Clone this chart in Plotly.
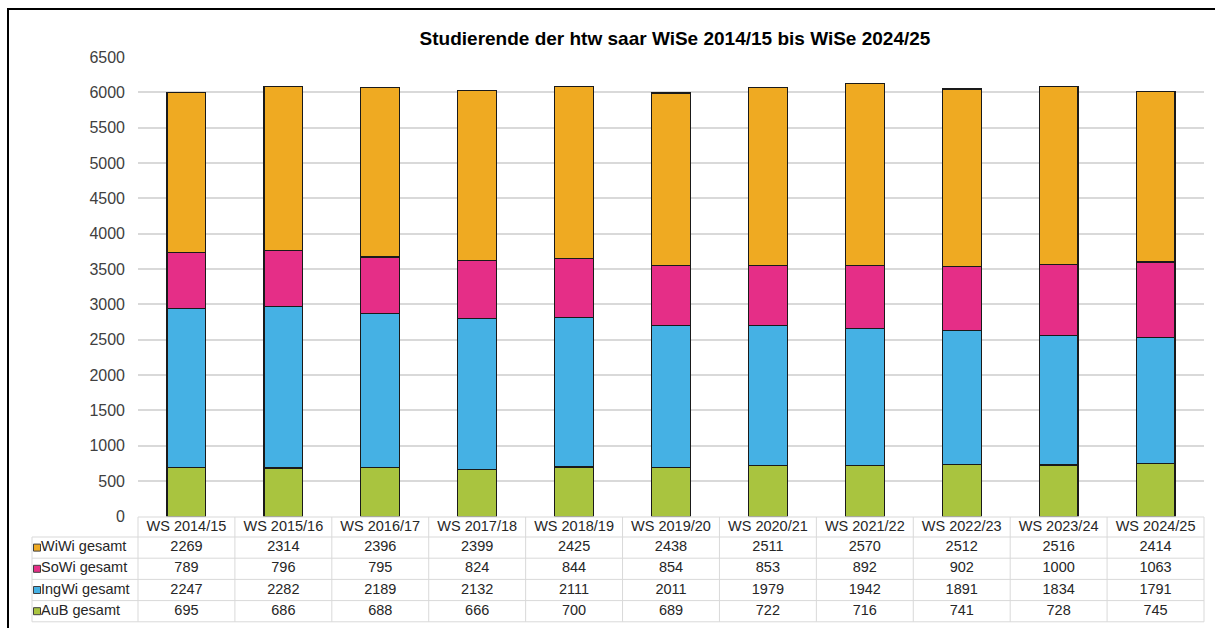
import plotly.graph_objects as go

categories = ['WS 2014/15', 'WS 2015/16', 'WS 2016/17', 'WS 2017/18', 'WS 2018/19', 'WS 2019/20',
              'WS 2020/21', 'WS 2021/22', 'WS 2022/23', 'WS 2023/24', 'WS 2024/25']
wiwi = [2269, 2314, 2396, 2399, 2425, 2438, 2511, 2570, 2512, 2516, 2414]
sowi = [789, 796, 795, 824, 844, 854, 853, 892, 902, 1000, 1063]
ingwi = [2247, 2282, 2189, 2132, 2111, 2011, 1979, 1942, 1891, 1834, 1791]
aub = [695, 686, 688, 666, 700, 689, 722, 716, 741, 728, 745]

series_names = ['AuB gesamt', 'IngWi gesamt', 'SoWi gesamt', 'WiWi gesamt']
series_values = [aub, ingwi, sowi, wiwi]
series_colors = ['#A9C43F', '#45B1E4', '#E52E87', '#EFAA22']

title_text = 'Studierende der htw saar WiSe 2014/15 bis WiSe 2024/25'
y_ticks = [0, 500, 1000, 1500, 2000, 2500, 3000, 3500, 4000, 4500, 5000, 5500, 6000, 6500]

# ---- layout constants (pixels) ----
FONT = 'Liberation Sans, Arial, sans-serif'
W, H = 1215, 628
ML, MR, MT, MB = 26, 6, 57, 4
PW, PH = W - ML - MR, H - MT - MB
plot_left_px, plot_right_px = 138, 1204
label_left_px = 32
plot_bottom_px = 516.5
table_top_px = 517
header_h, row_h = 20, 21.2
grid_color = '#d9d9d9'
text_color = '#262626'

n_cat = len(categories)
unit_px = (plot_right_px - plot_left_px) / n_cat
label_left = -0.5 - (plot_left_px - label_left_px) / unit_px   # in category units
x3_min = -0.5 - (plot_left_px - ML) / unit_px
x3_max = n_cat - 0.5 + (W - MR - plot_right_px) / unit_px

fig = go.Figure()
for name, vals, col in zip(series_names, series_values, series_colors):
    fig.add_trace(go.Bar(
        x=list(range(n_cat)), y=vals, name=name,
        marker=dict(color=col, line=dict(color='#1a1a1a', width=1.2)),
        showlegend=False, xaxis='x', yaxis='y',
        hovertext=categories, hovertemplate='%{hovertext}<br>' + name + ': %{y}<extra></extra>',
    ))

# ---- data table beneath the chart (rows top to bottom: WiWi, SoWi, IngWi, AuB) ----
table_rows = list(reversed(list(zip(series_names, series_values, series_colors))))
n_rows = len(table_rows)
row_edges = [table_top_px + header_h + k * row_h for k in range(n_rows + 1)]
row_centers = [(row_edges[k] + row_edges[k + 1]) / 2 for k in range(n_rows)]
header_center = table_top_px + header_h / 2
table_bottom_px = row_edges[-1]

# grid lines of the table
lx, ly = [], []
lx += [-0.5, n_cat - 0.5, None]; ly += [table_top_px, table_top_px, None]
for yv in row_edges:
    lx += [label_left, n_cat - 0.5, None]; ly += [yv, yv, None]
lx += [label_left, label_left, None]; ly += [row_edges[0], table_bottom_px, None]
for k in range(n_cat + 1):
    lx += [k - 0.5, k - 0.5, None]; ly += [table_top_px, table_bottom_px, None]
fig.add_trace(go.Scatter(x=lx, y=ly, mode='lines', line=dict(color=grid_color, width=1),
                         xaxis='x3', yaxis='y3', showlegend=False, hoverinfo='skip'))

# header texts
fig.add_trace(go.Scatter(x=list(range(n_cat)), y=[header_center] * n_cat, mode='text',
                         text=categories, textposition='middle center',
                         textfont=dict(family=FONT, size=14.5, color=text_color),
                         xaxis='x3', yaxis='y3', showlegend=False, hoverinfo='skip',
                         cliponaxis=False))
# value cells
cx, cy, ct = [], [], []
for r, (n, v, c) in enumerate(table_rows):
    for i in range(n_cat):
        cx.append(i); cy.append(row_centers[r]); ct.append(str(v[i]))
fig.add_trace(go.Scatter(x=cx, y=cy, mode='text', text=ct, textposition='middle center',
                         textfont=dict(family=FONT, size=14.5, color=text_color),
                         xaxis='x3', yaxis='y3', showlegend=False, hoverinfo='skip',
                         cliponaxis=False))
# row labels
key_px, text_px = 5, 9
fig.add_trace(go.Scatter(x=[label_left + text_px / unit_px] * n_rows, y=row_centers,
                         mode='text', text=[n for n, v, c in table_rows],
                         textposition='middle right',
                         textfont=dict(family=FONT, size=14.5, color=text_color),
                         xaxis='x3', yaxis='y3', showlegend=False, hoverinfo='skip',
                         cliponaxis=False))
# legend keys
fig.add_trace(go.Scatter(x=[label_left + key_px / unit_px] * n_rows, y=row_centers,
                         mode='markers',
                         marker=dict(symbol='square', size=7,
                                     color=[c for n, v, c in table_rows],
                                     line=dict(color='#404040', width=1)),
                         xaxis='x3', yaxis='y3', showlegend=False, hoverinfo='skip',
                         cliponaxis=False))

fig.update_layout(
    width=W, height=H, autosize=False,
    margin=dict(l=ML, r=MR, t=MT, b=MB, autoexpand=False),
    paper_bgcolor='white', plot_bgcolor='rgba(0,0,0,0)',
    barmode='stack', bargap=0.6,
    title=dict(text='<b>%s</b>' % title_text,
               x=((plot_left_px + plot_right_px) / 2 + 4 - ML) / PW, xref='paper',
               xanchor='center', y=1 - 38 / H, yanchor='middle',
               font=dict(family=FONT, size=19, color='#000000')),
    xaxis=dict(domain=[(plot_left_px - ML) / PW, (plot_right_px - ML) / PW],
               range=[-0.5, n_cat - 0.5], showticklabels=False, showgrid=False,
               zeroline=False, showline=False, ticks='', fixedrange=True, automargin=False),
    yaxis=dict(domain=[(H - MB - plot_bottom_px) / PH, 1], range=[0, 6500],
               tickvals=y_ticks, ticks='', ticklabelstandoff=12,
               tickfont=dict(family=FONT, size=16, color='#404040'),
               showgrid=True, gridcolor=grid_color, gridwidth=1.5,
               zeroline=False, showline=False, fixedrange=True, automargin=False),
    xaxis3=dict(domain=[0, 1], range=[x3_min, x3_max], visible=False, fixedrange=True,
                automargin=False),
    yaxis3=dict(domain=[0, (H - MB - (table_top_px - 2)) / PH],
                range=[H - MB, table_top_px - 2], visible=False, fixedrange=True,
                automargin=False),
    shapes=[
        dict(type='line', xref='paper', yref='paper',
             x0=(8 - ML) / PW, x1=(8 - ML) / PW, y0=(H - MB - (H + 10)) / PH, y1=(H - MB - 8) / PH,
             line=dict(color='#000000', width=2)),
        dict(type='line', xref='paper', yref='paper',
             x0=(7 - ML) / PW, x1=(W + 10 - ML) / PW, y0=(H - MB - 9) / PH, y1=(H - MB - 9) / PH,
             line=dict(color='#000000', width=2)),
    ],
)

fig.write_html('out.html', config={'displayModeBar': False},
               post_script="document.body.style.margin='0';document.body.style.overflow='hidden';")
